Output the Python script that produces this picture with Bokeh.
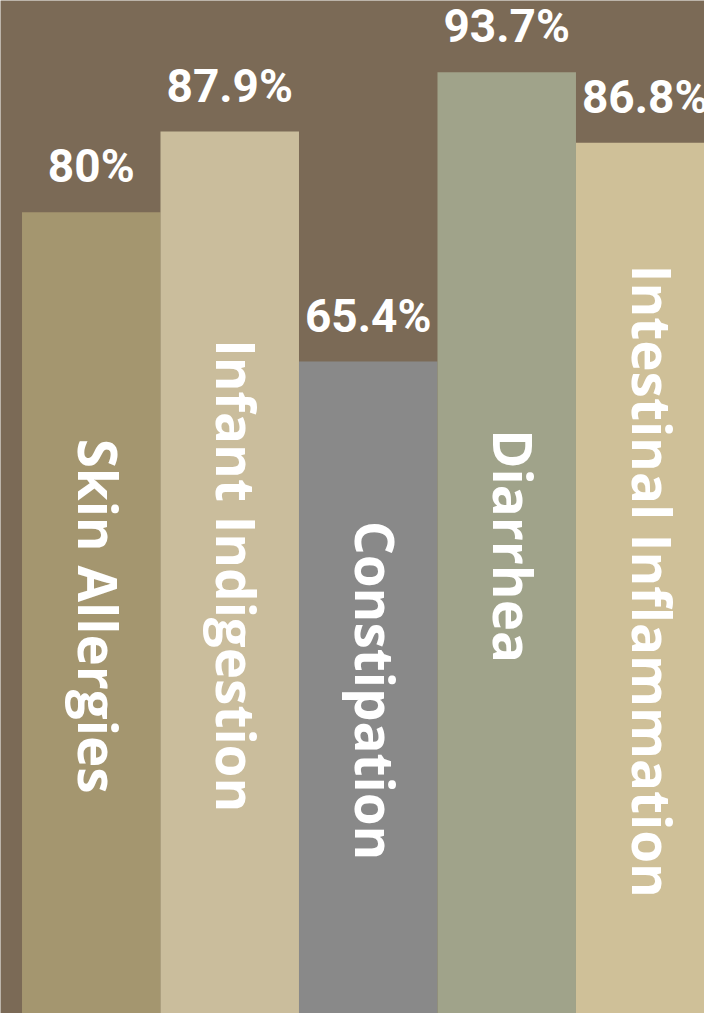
from bokeh.plotting import figure
from bokeh.models import ColumnDataSource, Range1d
from bokeh.core.properties import value
from bokeh.embed import file_html
from bokeh.resources import INLINE
import math

categories = ["Skin Allergies", "Infant Indigestion", "Constipation", "Diarrhea", "Intestinal Inflammation"]
values = [80, 87.9, 65.4, 93.7, 86.8]
colors = ["#a4966f", "#cabd9c", "#898989", "#a0a38a", "#cfc098"]
pct_labels = [f"{v:g}%" for v in values]

BG = "#7b6a56"

xs = [i + 0.5 for i in range(len(categories))]
src = ColumnDataSource(dict(
    x=xs, top=values, color=colors, cat=categories, pct=pct_labels,
    mid=[v / 2 for v in values],
))

p = figure(width=704, height=1013, output_backend="svg", toolbar_location=None,
           x_range=Range1d(-0.1553, 4.928), y_range=Range1d(1.6, 100.73),
           min_border=0)
p.background_fill_color = BG
p.border_fill_color = BG
p.outline_line_color = None
p.axis.visible = False
p.grid.visible = False

p.vbar(x="x", top="top", bottom=0, width=1.0, fill_color="color", line_color=None, source=src)

p.text(x="x", y="top", text="pct", source=src, text_align="center", text_baseline="alphabetic",
       y_offset=-46, text_color="white", text_font=value("Roboto"), text_font_style="bold",
       text_font_size="46px")

p.text(x="x", y="mid", text="cat", source=src, text_align="center", text_baseline="middle",
       angle=-math.pi / 2, x_offset=7, y_offset=-5, text_color="white",
       text_font=value("Open Sans"), text_font_style="bold", text_font_size="53px")

open("out.html", "w").write(file_html(p, INLINE))
